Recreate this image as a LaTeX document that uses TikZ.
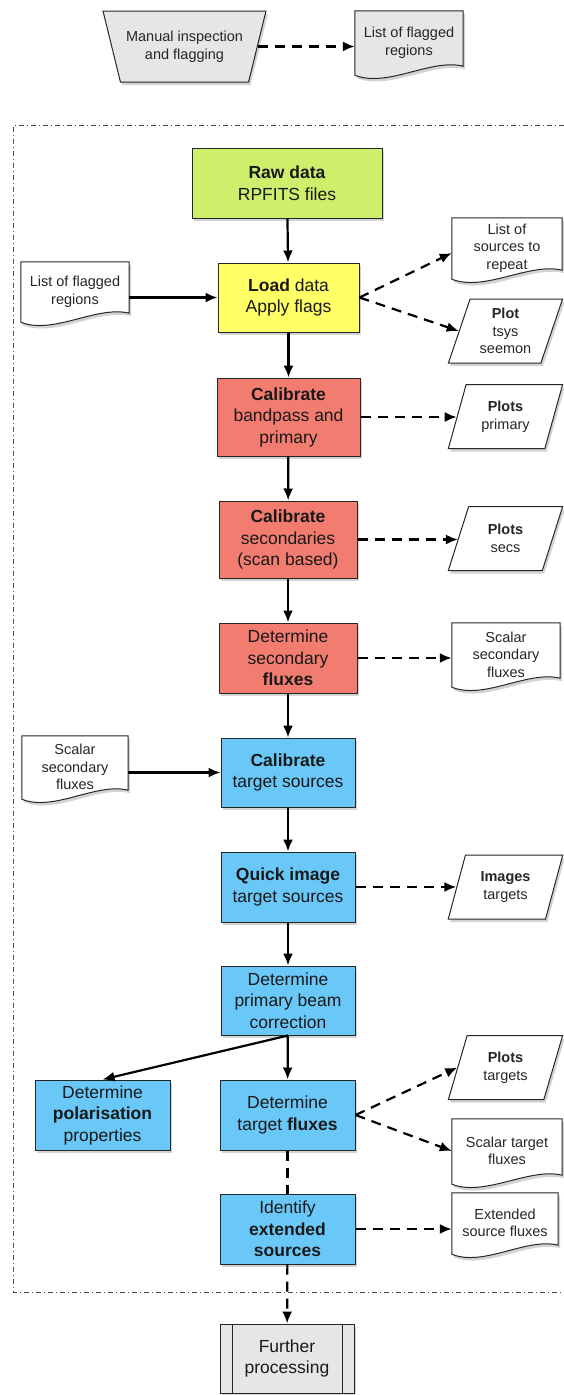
\documentclass[tikz,border=0pt]{standalone}
\usepackage{fontspec}
\setmainfont{Liberation Sans}
\usetikzlibrary{shapes.geometric,shadows,arrows.meta,calc}
\pgfdeclarelayer{background}
\pgfsetlayers{background,main}
\definecolor{cgreen}{RGB}{206,238,108}
\definecolor{cyellow}{RGB}{255,255,102}
\definecolor{cred}{RGB}{242,124,112}
\definecolor{cblue}{RGB}{106,200,248}
\definecolor{cgray}{RGB}{230,230,230}
\newcommand\docshape[2]{%
  \path[draw=black!85, line width=1pt, fill=#2,
        drop shadow={shadow xshift=2pt,shadow yshift=-3pt,opacity=0.35}]
   (#1.north west) -- (#1.north east) -- ([yshift=8pt]#1.south east)
   .. controls ($(#1.south west)!0.7!(#1.south east)+(0,16)$) and ($(#1.south west)!0.3!(#1.south east)+(0,-14)$)
   .. ([yshift=-1pt]#1.south west) -- cycle;}
\begin{document}
\begin{tikzpicture}[x=1pt,y=1pt,
  shad/.style={drop shadow={shadow xshift=2pt,shadow yshift=-3pt,opacity=0.35}},
  box/.style={rectangle, draw=black!85, line width=1pt, align=center,
    font=\fontsize{17.5}{21.5}\selectfont, text=black!90, inner sep=2pt, shad},
  small/.style={align=center, font=\fontsize{14.5}{17.5}\selectfont, text=black!85},
  para/.style={small, trapezium, trapezium left angle=71, trapezium right angle=109,
    trapezium stretches=true, minimum width=115pt, minimum height=64pt,
    draw=black!85, line width=1pt, fill=white, inner sep=1pt, shad},
  docnode/.style={small, rectangle, inner sep=0pt},
  flow/.style={line width=2.2pt, -{Latex[length=12pt,width=10pt]}},
  dflow/.style={flow, dash pattern=on 10pt off 7pt},
  frame/.style={line width=0.8pt, black!70, dash pattern=on 5pt off 3pt on 1pt off 3pt},
]
\useasboundingbox (0,0) rectangle (564,-1395);

% top
\node[small, trapezium, shape border rotate=180, trapezium left angle=66, trapezium right angle=66,
  trapezium stretches=true, minimum width=163pt, minimum height=71pt, draw=black!85, line width=1pt,
  fill=cgray, shad] (trap) at (184.5,-46.5) {Manual inspection\\and flagging};
\node[docnode, minimum width=108pt, minimum height=63pt] (topdoc) at (409,-42.5) {List of flagged\\regions};

% frame
\draw[frame] (564,-125) -- (13.5,-125) -- (13.5,-1292) -- (564,-1292);

% main column
\node[box, fill=cgreen, minimum width=190pt, minimum height=70pt] (raw) at (287,-183) {\textbf{Raw data}\\RPFITS files};
\node[box, fill=cyellow, minimum width=141pt, minimum height=69pt] (load) at (288.5,-297.5) {\textbf{Load} data\\Apply flags};
\node[box, fill=cred, minimum width=143pt, minimum height=78pt] (calbp) at (288.5,-417) {\textbf{Calibrate}\\bandpass and\\primary};
\node[box, fill=cred, minimum width=138pt, minimum height=77pt] (calsec) at (288,-539.5) {\textbf{Calibrate}\\secondaries\\(scan based)};
\node[box, fill=cred, minimum width=138pt, minimum height=70pt] (detsec) at (288,-658) {Determine\\secondary\\\textbf{fluxes}};
\node[box, fill=cblue, minimum width=134pt, minimum height=69pt] (caltgt) at (288,-772.5) {\textbf{Calibrate}\\target sources};
\node[box, fill=cblue, minimum width=134pt, minimum height=70pt] (quick) at (288,-887) {\textbf{Quick image}\\target sources};
\node[box, fill=cblue, minimum width=134pt, minimum height=69pt] (pbeam) at (288,-1000.5) {Determine\\primary beam\\correction};
\node[box, fill=cblue, minimum width=135pt, minimum height=70pt] (pol) at (102.5,-1115) {Determine\\\textbf{polarisation}\\properties};
\node[box, fill=cblue, minimum width=135pt, minimum height=70pt] (tflux) at (287.5,-1115) {Determine\\target \textbf{fluxes}};
\node[box, fill=cblue, minimum width=135pt, minimum height=70pt] (ident) at (287.5,-1229) {Identify\\\textbf{extended}\\\textbf{sources}};
\node[box, fill=cgray, minimum width=134pt, minimum height=69pt] (fp) at (287,-1358.5) {Further\\processing};
\draw[black!85, line width=1pt] ([xshift=13pt]fp.north west) -- ([xshift=13pt]fp.south west);
\draw[black!85, line width=1pt] ([xshift=-12pt]fp.north east) -- ([xshift=-12pt]fp.south east);

% parallelograms
\node[para] (tsys) at (505.5,-331) {\textbf{Plot}\\tsys\\seemon};
\node[para] (prim) at (505.5,-416.5) {\textbf{Plots}\\primary};
\node[para] (secs) at (505.5,-538.5) {\textbf{Plots}\\secs};
\node[para] (imgs) at (505.5,-887) {\textbf{Images}\\targets};
\node[para] (ptgt) at (505.5,-1067.5) {\textbf{Plots}\\targets};

% documents
\node[docnode, minimum width=108pt, minimum height=59pt] (flag) at (75,-291.5) {List of flagged\\regions};
\node[docnode, minimum width=110pt, minimum height=60pt] (rep) at (507,-248) {List of\\sources to\\repeat};
\node[docnode, minimum width=108pt, minimum height=63pt] (ssec) at (506,-654.5) {Scalar\\secondary\\fluxes};
\node[docnode, minimum width=106pt, minimum height=62pt] (ssecL) at (75,-767) {Scalar\\secondary\\fluxes};
\node[docnode, minimum width=110pt, minimum height=64pt] (stgt) at (507,-1151) {Scalar target\\fluxes};
\node[docnode, minimum width=106pt, minimum height=60pt] (ext) at (505,-1223) {Extended\\source fluxes};

\begin{pgfonlayer}{background}
\docshape{topdoc}{cgray}
\docshape{flag}{white}
\docshape{rep}{white}
\docshape{ssec}{white}
\docshape{ssecL}{white}
\docshape{stgt}{white}
\docshape{ext}{white}
\end{pgfonlayer}

% connectors
\draw[dflow] (trap.east) -- (trap.east -| topdoc.west);
\draw[flow] (raw) -- (load);
\draw[flow] (flag.east |- load.west) -- (load.west);
\draw[dflow] (load.east) -- ([yshift=-5pt]rep.west);
\draw[dflow] (load.east) -- (tsys.west);
\draw[flow] (load) -- (calbp);
\draw[dflow] (calbp.east) -- (calbp.east -| prim.west);
\draw[flow] (calbp) -- (calsec);
\draw[dflow] (calsec.east) -- (calsec.east -| secs.west);
\draw[flow] (calsec) -- (detsec);
\draw[dflow] (detsec.east) -- (detsec.east -| ssec.west);
\draw[flow] (detsec) -- (caltgt);
\draw[flow] (ssecL.east |- caltgt.west) -- (caltgt.west);
\draw[flow] (caltgt) -- (quick);
\draw[dflow] (quick.east) -- (quick.east -| imgs.west);
\draw[flow] (quick) -- (pbeam);
\draw[flow] (pbeam.south) -- (pol.north);
\draw[flow] (pbeam) -- (tflux);
\draw[dflow] (tflux.east) -- (ptgt.west);
\draw[dflow] (tflux.east) -- (stgt.west);
\draw[line width=2.2pt, dash pattern=on 10pt off 7pt] (tflux) -- (ident);
\draw[dflow] (ident.east) -- (ident.east -| ext.west);
\draw[dflow] (ident) -- (fp);
\end{tikzpicture}
\end{document}
